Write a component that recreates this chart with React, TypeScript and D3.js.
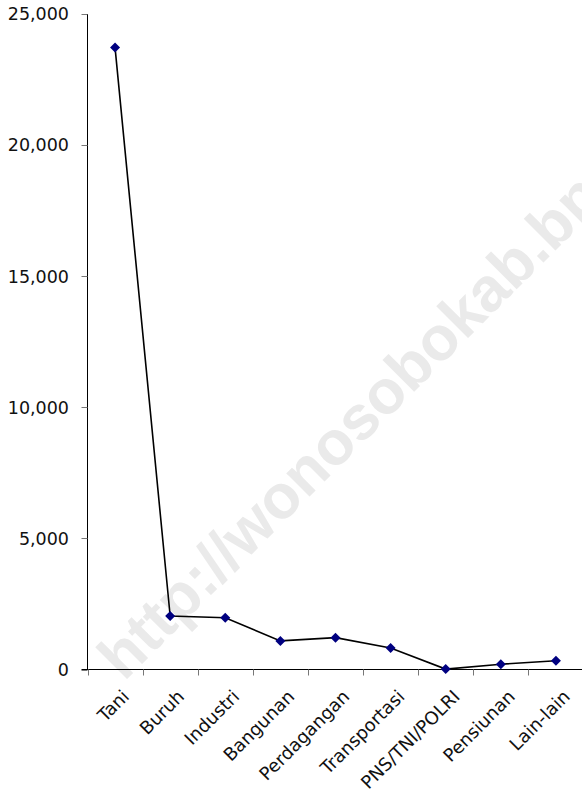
import React, { useEffect, useRef } from 'react';
import * as d3 from 'd3';

const categories = [
  'Tani',
  'Buruh',
  'Industri',
  'Bangunan',
  'Perdagangan',
  'Transportasi',
  'PNS/TNI/POLRI',
  'Pensiunan',
  'Lain-lain',
];
const values = [23720, 2040, 1975, 1090, 1215, 820, 15, 200, 335];
const yTicks = [0, 5000, 10000, 15000, 20000, 25000];
const watermark = 'http://wonosobokab.bps.go.id';

const W = 582;
const H = 801;

const App: React.FC = () => {
  const ref = useRef<SVGSVGElement | null>(null);

  useEffect(() => {
    if (!ref.current) return;
    const svg = d3.select(ref.current);
    svg.selectAll('*').remove();

    const left = 87.5;
    const right = 583.5;
    const top = 14;
    const bottom = 669.5;
    const font = '"DejaVu Sans", Verdana, sans-serif';

    const x = d3.scaleBand().domain(categories).range([left, right]);
    const y = d3.scaleLinear().domain([0, 25000]).range([bottom, top]);

    // watermark behind the chart
    svg.append('text')
      .attr('transform', 'translate(124,682) rotate(-45)')
      .attr('font-family', '"Liberation Sans", Arial, sans-serif')
      .attr('font-weight', 'bold')
      .attr('font-size', 62)
      .attr('fill', '#eaeaea')
      .text(watermark);

    // y axis
    const yAxis = svg.append('g');
    yAxis.append('line')
      .attr('x1', left).attr('x2', left)
      .attr('y1', top).attr('y2', bottom)
      .attr('stroke', '#000');
    yAxis.selectAll('.tick')
      .data(yTicks)
      .enter().append('line')
      .attr('x1', left - 6).attr('x2', left)
      .attr('y1', d => Math.round(y(d)) + 0.5)
      .attr('y2', d => Math.round(y(d)) + 0.5)
      .attr('stroke', '#777');
    yAxis.selectAll('.lbl')
      .data(yTicks)
      .enter().append('text')
      .attr('x', 69)
      .attr('y', d => y(d))
      .attr('dy', '0.36em')
      .attr('text-anchor', 'end')
      .attr('font-family', font)
      .attr('font-size', 17.5)
      .attr('fill', '#111')
      .text(d => d3.format(',')(d));

    // x axis
    const xAxis = svg.append('g');
    xAxis.append('line')
      .attr('x1', left - 6).attr('x2', W)
      .attr('y1', bottom).attr('y2', bottom)
      .attr('stroke', '#000');
    const bounds = categories.map(c => x(c)!).concat([right]);
    xAxis.selectAll('.tick')
      .data(bounds)
      .enter().append('line')
      .attr('x1', d => Math.round(d) + 0.5)
      .attr('x2', d => Math.round(d) + 0.5)
      .attr('y1', bottom).attr('y2', bottom + 6)
      .attr('stroke', '#777');
    xAxis.selectAll('.lbl')
      .data(categories)
      .enter().append('text')
      .attr('transform', d => `translate(${x(d)! + x.bandwidth() / 2 + 6},${bottom + 19}) rotate(-45)`)
      .attr('dy', '0.72em')
      .attr('text-anchor', 'end')
      .attr('font-family', font)
      .attr('font-size', 18)
      .attr('fill', '#111')
      .text(d => d);

    // series
    const pts = categories.map((c, i) => [x(c)! + x.bandwidth() / 2, y(values[i])] as [number, number]);
    svg.append('path')
      .attr('d', d3.line()(pts))
      .attr('fill', 'none')
      .attr('stroke', '#000')
      .attr('stroke-width', 1.6);
    svg.selectAll('.marker')
      .data(pts)
      .enter().append('path')
      .attr('transform', d => `translate(${d[0]},${d[1]})`)
      .attr('d', d3.symbol(d3.symbolDiamond2, 64)())
      .attr('fill', '#000080');
  }, []);

  return (
    <svg
      ref={ref}
      width={W}
      height={H}
      style={{ position: 'absolute', left: 0, top: 0, background: '#fff' }}
    />
  );
};

export default App;
